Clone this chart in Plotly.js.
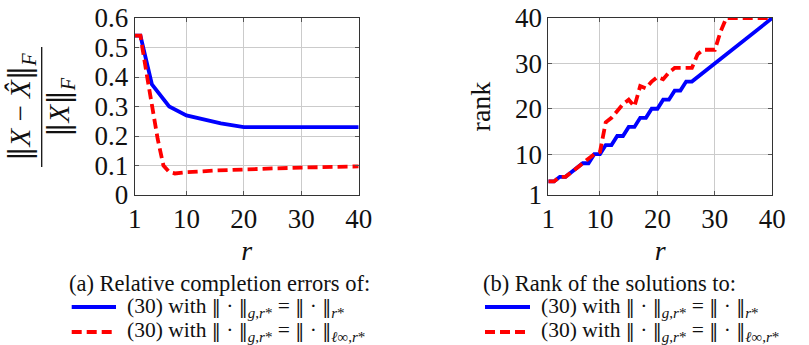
<!DOCTYPE html>
<html>
<head>
<meta charset="utf-8">
<script src="https://cdn.plot.ly/plotly-3.0.1.min.js"></script>
<style>html,body{margin:0;padding:0;background:#fff;}#chart{width:809px;height:345px;}</style>
</head>
<body>
<div id="chart"></div>
<script>
// ---- data ----
const rErrBlue = [1, 2, 4, 7, 10, 13, 16, 20, 25, 30, 35, 40];
const errBlue  = [0.54, 0.54, 0.375, 0.30, 0.27, 0.255, 0.243, 0.23, 0.23, 0.23, 0.23, 0.23];
const rErrRed  = [1, 2, 3, 4, 5, 6, 7, 8, 10, 15, 20, 25, 30, 35, 40];
const errRed   = [0.54, 0.54, 0.42, 0.30, 0.19, 0.10, 0.078, 0.073, 0.077, 0.083, 0.088, 0.09, 0.093, 0.095, 0.097];

const rRank = [1,2,3,4,5,6,7,8,9,10,11,12,13,14,15,16,17,18,19,20,21,22,23,24,25,26,27,28,29,30,31,32,33,34,35,36,37,38,39,40];
const rankBlue = [4,4,5,5,6,7,8,8,10,10,12,12,14,14,16,16,18,18,20,20,22,22,24,24,26,26,27,28,29,30,31,32,33,34,35,36,37,38,39,40];
const rankRed  = [4,4,5,5,6,7,8,9,10,10.5,17,18,19.5,21,22,20.5,25,24.5,26,27,26.5,28,29,29,29,29,32,33,33,33,37,40,40,40,40,40,40,40,40,40];

const xTicks = [1, 10, 20, 30, 40];
const errTicks = [0, 0.1, 0.2, 0.3, 0.4, 0.5, 0.6];
const errTickText = ['0', '0.1', '0.2', '0.3', '0.4', '0.5', '0.6'];
const rankTicks = [1, 10, 20, 30, 40];

const NB = '<span style="font-family:\'DejaVu Serif\';font-size:18px">‖</span>';
const NBT = '<span style="font-family:\'DejaVu Serif\'">‖</span>';
const captionA = '(a) Relative completion errors of:';
const captionB = '(b) Rank of the solutions to:';
const legendBlue = '(30) with ' + NB + ' · ' + NB + '<sub><i>g</i>,<i>r</i>*</sub> = ' + NB + ' · ' + NB + '<sub><i>r</i>*</sub>';
const legendRed  = '(30) with ' + NB + ' · ' + NB + '<sub><i>g</i>,<i>r</i>*</sub> = ' + NB + ' · ' + NB + '<sub><i>ℓ</i>∞,<i>r</i>*</sub>';

// ---- layout helpers ----
const W = 809, H = 345;
const px = x => x / W;
const py = y => 1 - y / H;
const FONT = '"Liberation Serif", "Times New Roman", serif';
const BLUE = '#0000ff', RED = '#ff0000';

const traces = [
  {x: rErrBlue, y: errBlue, xaxis: 'x', yaxis: 'y', mode: 'lines', showlegend: false,
   line: {color: BLUE, width: 3.8}},
  {x: rErrRed, y: errRed, xaxis: 'x', yaxis: 'y', mode: 'lines', showlegend: false,
   line: {color: RED, width: 3.8, dash: '10px,5px'}},
  {x: rRank, y: rankBlue, xaxis: 'x2', yaxis: 'y2', mode: 'lines', showlegend: false,
   line: {color: BLUE, width: 3.8}},
  {x: rRank, y: rankRed, xaxis: 'x2', yaxis: 'y2', mode: 'lines', showlegend: false,
   line: {color: RED, width: 3.8, dash: '10px,5px'}}
];

const axBase = {
  showline: true, linecolor: '#333', linewidth: 1, mirror: 'ticks',
  ticks: 'inside', ticklen: 4, tickcolor: '#555', tickwidth: 1,
  showgrid: true, gridcolor: '#cbcbcb', gridwidth: 1, zeroline: false,
  tickfont: {family: FONT, size: 27, color: '#111'}, automargin: false, fixedrange: true
};

const layout = {
  width: W, height: H,
  margin: {l: 0, r: 0, t: 0, b: 0},
  paper_bgcolor: '#fff', plot_bgcolor: '#fff',
  font: {family: FONT, color: '#111'},
  showlegend: false,
  xaxis: Object.assign({}, axBase, {domain: [px(134.7), px(358.7)], range: [1, 40], tickvals: xTicks,
    anchor: 'y', title: {text: '<i>r</i>', font: {family: FONT, size: 28, color: '#111'}, standoff: 6}}),
  yaxis: Object.assign({}, axBase, {domain: [py(195), py(18)], range: [0, 0.6], tickvals: errTicks,
    ticktext: errTickText, anchor: 'x'}),
  xaxis2: Object.assign({}, axBase, {domain: [px(548.3), px(772.3)], range: [1, 40], tickvals: xTicks,
    anchor: 'y2', title: {text: '<i>r</i>', font: {family: FONT, size: 28, color: '#111'}, standoff: 6}}),
  yaxis2: Object.assign({}, axBase, {domain: [py(195), py(18)], range: [1, 40], tickvals: rankTicks,
    anchor: 'x2', title: {text: 'rank', font: {family: FONT, size: 28, color: '#111'}, standoff: 16}}),
  shapes: [
    // fraction bar of the left y title
    {type: 'line', xref: 'paper', yref: 'paper', x0: px(41.7), x1: px(41.7), y0: py(47), y1: py(167),
     line: {color: '#111', width: 1.3}},
    // caption legend samples
    {type: 'line', xref: 'paper', yref: 'paper', x0: px(71.7), x1: px(116), y0: py(307), y1: py(307),
     line: {color: BLUE, width: 4}},
    {type: 'line', xref: 'paper', yref: 'paper', x0: px(71.7), x1: px(116), y0: py(332), y1: py(332),
     line: {color: RED, width: 4, dash: '10px,5px'}},
    {type: 'line', xref: 'paper', yref: 'paper', x0: px(485), x1: px(530), y0: py(307), y1: py(307),
     line: {color: BLUE, width: 4}},
    {type: 'line', xref: 'paper', yref: 'paper', x0: px(485), x1: px(530), y0: py(332), y1: py(332),
     line: {color: RED, width: 4, dash: '10px,5px'}}
  ],
  annotations: [
    {xref: 'paper', yref: 'paper', x: px(21), y: py(107), text: NBT + '<i>X</i> − <i>X̂</i>' + NBT + '<sub><i>F</i></sub>',
     textangle: -90, showarrow: false, xanchor: 'center', yanchor: 'middle',
     font: {family: FONT, size: 29, color: '#111'}},
    {xref: 'paper', yref: 'paper', x: px(60), y: py(107), text: NBT + '<i>X</i>' + NBT + '<sub><i>F</i></sub>',
     textangle: -90, showarrow: false, xanchor: 'center', yanchor: 'middle',
     font: {family: FONT, size: 29, color: '#111'}},
    {xref: 'paper', yref: 'paper', x: px(67), y: py(283), text: captionA, showarrow: false,
     xanchor: 'left', yanchor: 'middle', font: {family: FONT, size: 22.5, color: '#111'}},
    {xref: 'paper', yref: 'paper', x: px(125), y: py(307), text: legendBlue, showarrow: false,
     xanchor: 'left', yanchor: 'middle', font: {family: FONT, size: 21.5, color: '#111'}},
    {xref: 'paper', yref: 'paper', x: px(125), y: py(331), text: legendRed, showarrow: false,
     xanchor: 'left', yanchor: 'middle', font: {family: FONT, size: 21.5, color: '#111'}},
    {xref: 'paper', yref: 'paper', x: px(481), y: py(283), text: captionB, showarrow: false,
     xanchor: 'left', yanchor: 'middle', font: {family: FONT, size: 22.5, color: '#111'}},
    {xref: 'paper', yref: 'paper', x: px(539), y: py(307), text: legendBlue, showarrow: false,
     xanchor: 'left', yanchor: 'middle', font: {family: FONT, size: 21.5, color: '#111'}},
    {xref: 'paper', yref: 'paper', x: px(539), y: py(331), text: legendRed, showarrow: false,
     xanchor: 'left', yanchor: 'middle', font: {family: FONT, size: 21.5, color: '#111'}}
  ]
};

Plotly.newPlot('chart', traces, layout, {staticPlot: true, displayModeBar: false});
</script>
</body>
</html>
